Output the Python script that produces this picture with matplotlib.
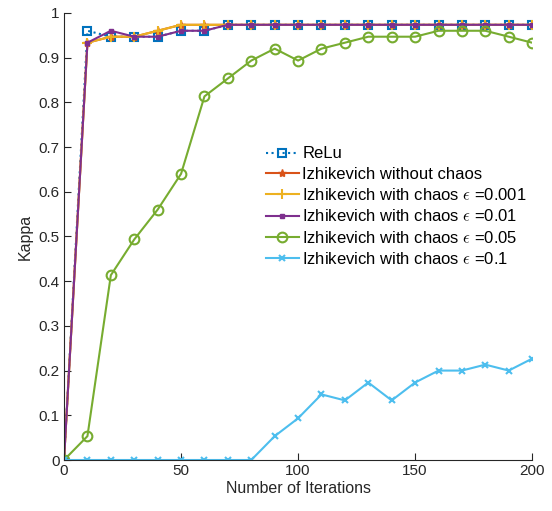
import numpy as np
import matplotlib
matplotlib.use("Agg")
import matplotlib.pyplot as plt

plt.rcParams['font.family'] = ['Liberation Sans', 'DejaVu Sans']
plt.rcParams['mathtext.fontset'] = 'cm'

# === Données
iterations = list(range(0, 201, 10))

relu = [0, 0.96, 0.9467, 0.9467, 0.9467, 0.96, 0.96] + [0.9733] * 14
izh_no_chaos = [0, 0.9333, 0.9467, 0.9467, 0.96, 0.9733, 0.9733] + [0.9733] * 14
izh_001 = [0, 0.9333, 0.9467, 0.9467, 0.96, 0.9733, 0.9733] + [0.9733] * 14
izh_01 = [0, 0.9333, 0.96, 0.9467, 0.9467, 0.96, 0.96] + [0.9733] * 14
izh_05 = [0, 0.0533, 0.4133, 0.4933, 0.56, 0.64, 0.8133, 0.8533, 0.8933, 0.92,
          0.8933, 0.92, 0.9333, 0.9467, 0.9467, 0.9467, 0.96, 0.96, 0.96,
          0.9467, 0.9333]
izh_1 = [0, 0, 0, 0, 0, 0, 0, 0, 0, 0.0533, 0.0933, 0.1467, 0.1333, 0.1733,
         0.1333, 0.1733, 0.2, 0.2, 0.2133, 0.2, 0.2267]

labels = ["ReLu",
          "Izhikevich without chaos",
          r"Izhikevich with chaos $\epsilon$ =0.001",
          r"Izhikevich with chaos $\epsilon$ =0.01",
          r"Izhikevich with chaos $\epsilon$ =0.05",
          r"Izhikevich with chaos $\epsilon$ =0.1"]

# === Graphique
fig = plt.figure(figsize=(5.52, 5.11), dpi=100)
ax = fig.add_axes([0.116, 0.0998, 0.848, 0.875])

lw = 1.5
ax.plot(iterations, relu, ':', color='#0072BD', marker='s', mfc='none',
        mew=1.5, ms=6, lw=lw, label=labels[0])
ax.plot(iterations, izh_no_chaos, '-', color='#D95319', marker='*',
        ms=6, lw=lw, label=labels[1])
ax.plot(iterations, izh_001, '-', color='#EDB120', marker='+',
        mew=1.5, ms=7, lw=lw, label=labels[2])
ax.plot(iterations, izh_01, '-', color='#7E2F8E', marker='s',
        ms=3.5, lw=lw, label=labels[3])
ax.plot(iterations, izh_05, '-', color='#77AC30', marker='o', mfc='none',
        mew=1.5, ms=7, lw=lw, label=labels[4])
ax.plot(iterations, izh_1, '-', color='#4DBEEE', marker='x',
        mew=1.5, ms=5, lw=lw, label=labels[5])

ax.set_xlim(0, 200)
ax.set_ylim(0, 1)
ax.set_xticks([0, 50, 100, 150, 200])
ax.set_yticks(np.round(np.arange(0, 1.01, 0.1), 1))
ax.set_yticklabels(["0", "0.1", "0.2", "0.3", "0.4", "0.5", "0.6", "0.7",
                    "0.8", "0.9", "1"])
ax.spines['top'].set_visible(False)
ax.spines['right'].set_visible(False)
for s in ('left', 'bottom'):
    ax.spines[s].set_color('#262626')
ax.tick_params(direction='in', length=5, colors='#262626', labelsize=11,
               labelcolor='#262626', pad=3)
ax.set_xlabel("Number of Iterations", fontsize=11.5, color='#262626', labelpad=2)
ax.set_ylabel("Kappa", fontsize=11.5, color='#262626', labelpad=4)

ax.legend(loc='upper left', bbox_to_anchor=(0.413, 0.72), frameon=False,
          fontsize=12, handlelength=2.0, handletextpad=0.2,
          labelspacing=0.32, borderpad=0.0)

fig.savefig("out.png", dpi=100)
